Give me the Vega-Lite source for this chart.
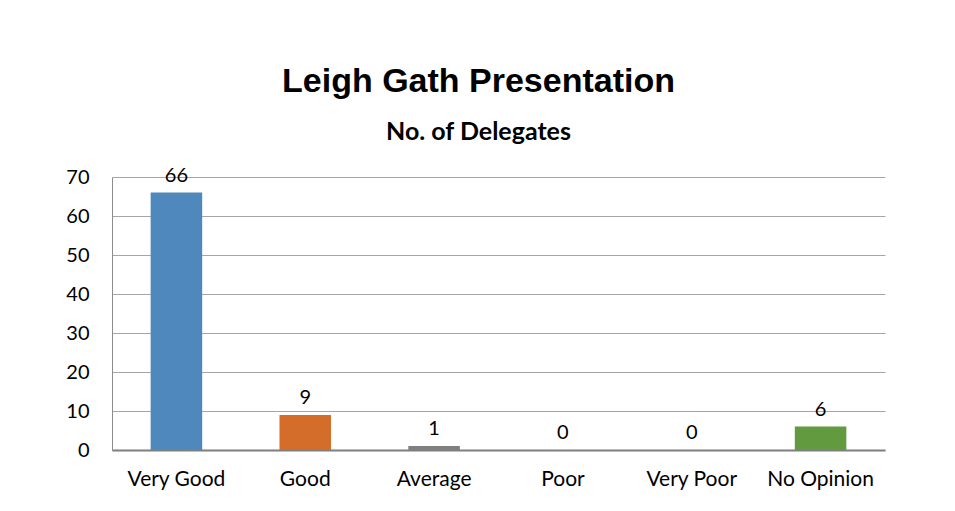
{
  "$schema": "https://vega.github.io/schema/vega-lite/v6.json",
  "width": 773,
  "height": 273,
  "autosize": {"type": "none"},
  "padding": {"left": 112, "top": 177, "right": 70, "bottom": 61},
  "background": "white",
  "title": {
    "text": "Leigh Gath Presentation",
    "subtitle": "No. of Delegates",
    "font": "Liberation Sans",
    "fontSize": 34,
    "fontWeight": "bold",
    "color": "black",
    "subtitleFont": "Lato",
    "subtitleFontSize": 25,
    "subtitleFontWeight": "bold",
    "subtitleColor": "black",
    "subtitlePadding": 21,
    "offset": 21,
    "anchor": "middle",
    "dx": -20
  },
  "data": {
    "values": [
      {"category": "Very Good", "count": 66},
      {"category": "Good", "count": 9},
      {"category": "Average", "count": 1},
      {"category": "Poor", "count": 0},
      {"category": "Very Poor", "count": 0},
      {"category": "No Opinion", "count": 6}
    ]
  },
  "encoding": {
    "x": {
      "field": "category",
      "type": "nominal",
      "sort": null,
      "scale": {"paddingInner": 0.6, "paddingOuter": 0.3},
      "axis": {
        "title": null,
        "labelAngle": 0,
        "labelFont": "Lato",
        "labelFontSize": 21,
        "labelColor": "black",
        "labelPadding": 18,
        "ticks": false,
        "domainColor": "#7f7f7f",
        "domainWidth": 2,
        "grid": false
      }
    },
    "y": {
      "field": "count",
      "type": "quantitative",
      "scale": {"domain": [0, 70], "nice": false},
      "axis": {
        "title": null,
        "values": [0, 10, 20, 30, 40, 50, 60, 70],
        "labelFont": "Lato",
        "labelFontSize": 20,
        "labelColor": "black",
        "labelPadding": 23,
        "ticks": false,
        "domainColor": "#8c8c8c",
        "domainWidth": 1,
        "gridColor": "#a6a6a6",
        "gridWidth": 1,
        "gridOpacity": 1
      }
    }
  },
  "layer": [
    {
      "mark": {"type": "bar"},
      "encoding": {
        "color": {
          "field": "category",
          "type": "nominal",
          "sort": null,
          "legend": null,
          "scale": {
            "domain": ["Very Good", "Good", "Average", "Poor", "Very Poor", "No Opinion"],
            "range": ["#4f88bd", "#d46c2a", "#7f7f7f", "#4f81bd", "#4f81bd", "#629a3f"]
          }
        }
      }
    },
    {
      "mark": {"type": "text", "font": "Lato", "fontSize": 20, "color": "black", "baseline": "alphabetic", "dy": -11},
      "encoding": {
        "text": {"field": "count", "type": "quantitative"}
      }
    }
  ],
  "config": {
    "view": {"stroke": null}
  }
}
